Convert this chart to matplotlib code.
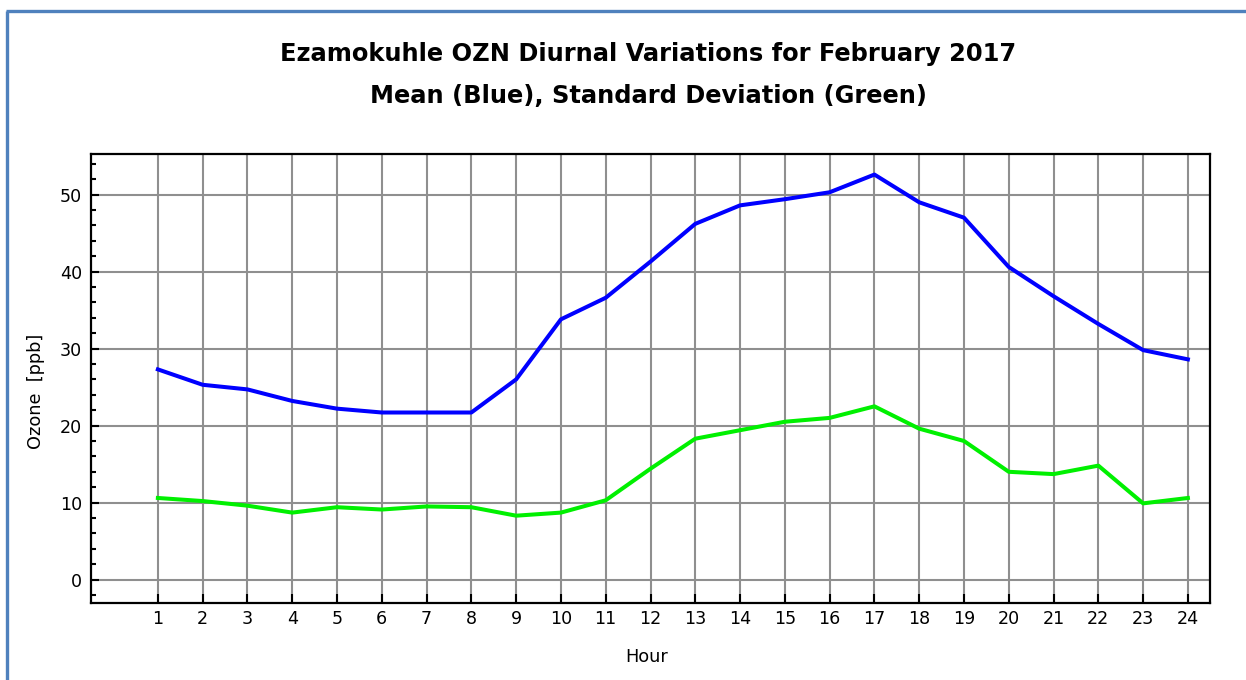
import matplotlib
matplotlib.use("Agg")
import matplotlib.pyplot as plt
from matplotlib.ticker import MultipleLocator, FixedLocator
from matplotlib.lines import Line2D

hours = list(range(1, 25))
mean_ozone = [27.3, 25.3, 24.7, 23.2, 22.2, 21.7, 21.7, 21.7, 26.0, 33.8,
              36.6, 41.3, 46.2, 48.6, 49.4, 50.3, 52.6, 49.0, 47.0, 40.6,
              36.8, 33.2, 29.8, 28.6]
std_ozone = [10.6, 10.2, 9.6, 8.7, 9.4, 9.1, 9.5, 9.4, 8.3, 8.7,
             10.3, 14.4, 18.3, 19.4, 20.5, 21.0, 22.5, 19.6, 18.0, 14.0,
             13.7, 14.8, 9.9, 10.6]
y_major = [0, 10, 20, 30, 40, 50]
title1 = "Ezamokuhle OZN Diurnal Variations for February 2017"
title2 = "Mean (Blue), Standard Deviation (Green)"

W, H = 1246, 680
fig = plt.figure(figsize=(W / 100, H / 100), dpi=100)
plt.rcParams['font.family'] = ['DejaVu Sans']

L, R, T, B = 90.7, 1210.3, 154.0, 602.7
ax = fig.add_axes([L / W, 1 - B / H, (R - L) / W, (B - T) / H])

ax.plot(hours, mean_ozone, color='#0000ff', lw=2.9, solid_joinstyle='round', zorder=3)
ax.plot(hours, std_ozone, color='#00f000', lw=2.9, solid_joinstyle='round', zorder=3)

ax.set_xlim(-0.5, 24.5)
ax.set_ylim(-3, 55.27)
ax.xaxis.set_major_locator(FixedLocator(hours))
ax.set_xticklabels([str(h) for h in hours])
ax.yaxis.set_major_locator(FixedLocator(y_major))
ax.yaxis.set_minor_locator(MultipleLocator(2))

ax.grid(True, which='major', color='#8f8f8f', lw=1.5, zorder=1)
ax.set_axisbelow(True)

ax.tick_params(axis='x', which='major', direction='in', length=6.5, width=1.5,
               color='black', labelsize=12.6, pad=5, top=False)
ax.tick_params(axis='y', which='major', direction='in', length=6, width=1.5,
               color='black', labelsize=12.6, pad=6, right=False)
ax.tick_params(axis='y', which='minor', direction='in', length=3.6, width=1.5,
               color='black', right=False)
for s in ax.spines.values():
    s.set_linewidth(1.6)
    s.set_color('black')

ax.set_xlabel("Hour", fontsize=12.8)
ax.xaxis.set_label_coords((647 - L) / (R - L), (B - 656.7) / (B - T))
ax.xaxis.label.set_va('center')
ax.set_ylabel("Ozone  [ppb]", fontsize=12.8)
ax.yaxis.set_label_coords((35.7 - L) / (R - L), (B - 391.5) / (B - T))
ax.yaxis.label.set_va('center')

fig.text(648 / W, 1 - 60.7 / H, title1, ha='center', va='baseline',
         fontsize=17.4, fontweight='bold')
fig.text(649 / W, 1 - 102.7 / H, title2, ha='center', va='baseline',
         fontsize=17.4, fontweight='bold')

frame_c = '#4F81BD'
fig.add_artist(Line2D([6.7 / W, 6.7 / W], [0, 1 - 11 / H], color=frame_c, lw=2.4,
                      transform=fig.transFigure, solid_capstyle='butt'))
fig.add_artist(Line2D([5.5 / W, 1], [1 - 11 / H, 1 - 11 / H], color=frame_c, lw=2.4,
                      transform=fig.transFigure, solid_capstyle='butt'))

fig.savefig("out.png", dpi=100, facecolor='white')
